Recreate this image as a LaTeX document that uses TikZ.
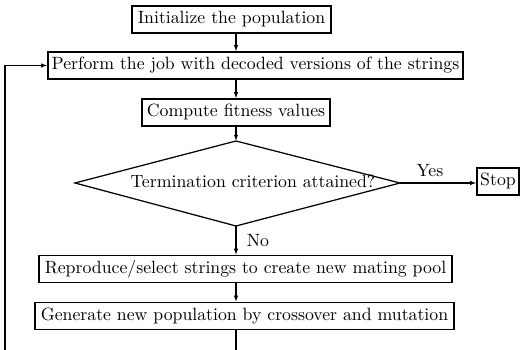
\documentclass[tikz,border=0pt]{standalone}
\usetikzlibrary{arrows.meta}
\newcommand{\pxu}{0.5634pt}
\begin{document}
\begin{tikzpicture}[x=\pxu, y=-\pxu,
  every node/.style={font=\fontsize{10}{12}\selectfont},
  stepbox/.style={draw, line width=0.7pt, inner sep=0pt, minimum height={27*\pxu},
    text height=7pt, text depth=2pt},
  conn/.style={line width=0.6pt},
  arr/.style={conn, -{Latex[length=3.5pt,width=2.5pt]}}]
\clip (0,0) rectangle (523,350);
\node[stepbox, minimum width={199*\pxu}] (init) at (231.5,19.5) {Initialize the population};
\node[stepbox, minimum width={415*\pxu}] (perf) at (255.5,65.5) {Perform the job with decoded versions of the strings};
\node[stepbox, minimum width={188*\pxu}] (comp) at (236,112.5) {Compute fitness values};
\coordinate (dt) at (236,141);
\coordinate (dl) at (75,183);
\coordinate (dr) at (400,183);
\coordinate (db) at (236,226);
\draw[line width=0.7pt] (dt) -- (dr) -- (db) -- (dl) -- cycle;
\node (term) at (253,181) {Termination criterion attained?};
\node[stepbox, minimum width={42*\pxu}] (stop) at (498,181.5) {Stop};
\node[stepbox, minimum width={413*\pxu}] (repr) at (245.5,269) {Reproduce/select strings to create new mating pool};
\node[stepbox, minimum width={419*\pxu}] (gen) at (244.5,316) {Generate new population by crossover and mutation};
\coordinate (ax) at (236,0);
\coordinate (loopbl) at (5,370);
\draw[arr] (init.south -| ax) -- (perf.north -| ax);
\draw[arr] (perf.south -| ax) -- (comp.north -| ax);
\draw[arr] (comp.south -| ax) -- (dt);
\draw[arr] (dr) -- (stop.west |- dr);
\node (yes) at (430,171) {Yes};
\draw[arr] (db) -- (repr.north -| ax);
\node (no) at (258,241) {No};
\draw[arr] (repr.south -| ax) -- (gen.north -| ax);
\draw[arr] (gen.south -| ax) -- (loopbl -| ax) -- (loopbl) |- (perf.west);
\end{tikzpicture}
\end{document}
